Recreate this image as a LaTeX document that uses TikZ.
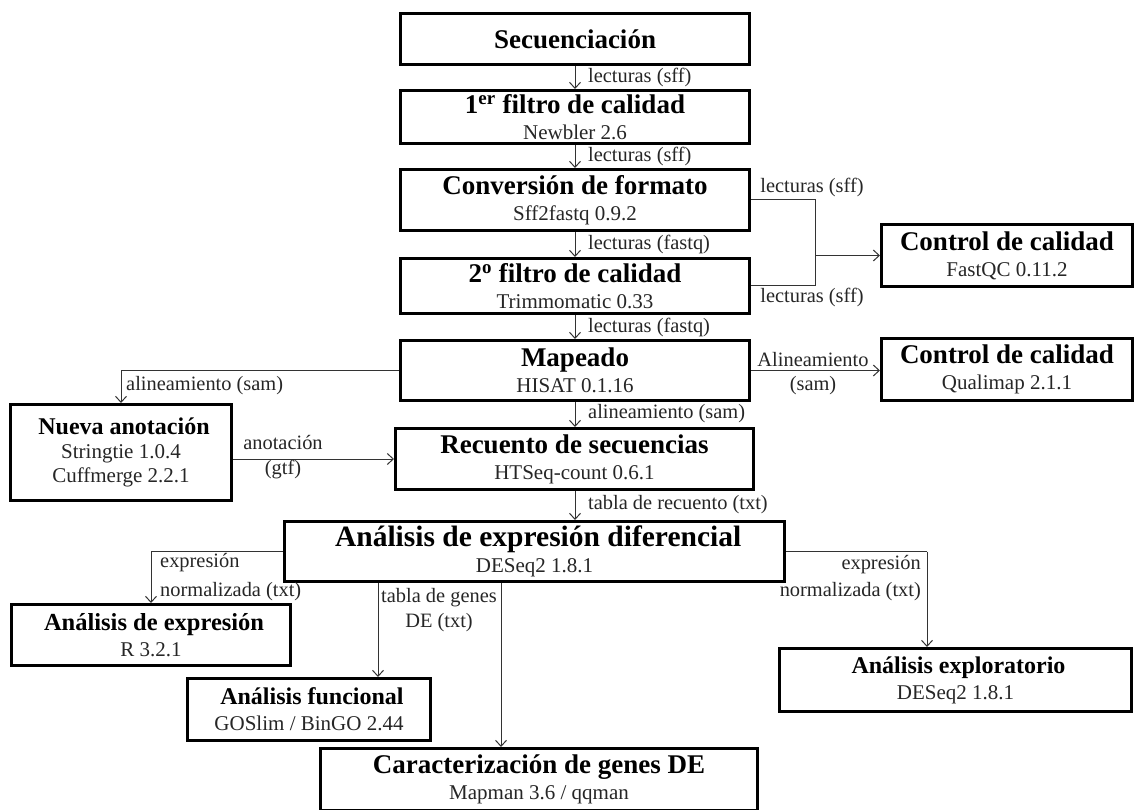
\documentclass[tikz,border=0pt]{standalone}
\usepackage{fontspec}
\setmainfont{Liberation Serif}
\usetikzlibrary{arrows.meta,calc}
\newcommand\ttl{\fontsize{27}{31}\selectfont\bfseries}
\newcommand\ttlx[1]{\fontsize{#1}{#1}\selectfont\bfseries}
\newcommand\sbt{\fontsize{21}{26}\selectfont}
\newcommand\sub[1]{{\color{black!85}#1}}
\tikzset{
  box/.style={draw=black, line width=3pt, inner sep=0pt, align=center, text=black, font=\sbt},
  lab/.style={font=\fontsize{20.4}{24}\selectfont, inner sep=0pt, text=black!85},
  conn/.style={draw=black!80, line width=1pt},
  arr/.style={conn, -{Straight Barb[length=6pt,width=11pt]}}
}
\begin{document}
\begin{tikzpicture}[x=1pt,y=-1pt]
\useasboundingbox[fill=white] (0,0) rectangle (1135,810);
\clip (0,0) rectangle (1135,810);
% boxes
\node[box, minimum width=349, minimum height=51] (S) at (575,39) {{\ttl Secuenciación}};
\node[box, minimum width=349, minimum height=53] (F1) at (575,117) {{\ttl 1\textsuperscript{er} filtro de calidad}\\\sub{Newbler 2.6}};
\node[box, minimum width=349, minimum height=61] (CF) at (575,200) {{\ttl Conversión de formato}\\\sub{Sff2fastq 0.9.2}};
\node[box, minimum width=349, minimum height=55] (F2) at (575,286) {{\ttl 2\textsuperscript{o} filtro de calidad}\\\sub{Trimmomatic 0.33}};
\node[box, minimum width=349, minimum height=60] (M) at (575,370.5) {{\ttl Mapeado}\\\sub{HISAT 0.1.16}};
\node[box, minimum width=251, minimum height=62] (Q1) at (1007,255.5) {{\ttl Control de calidad}\\\sub{FastQC 0.11.2}};
\node[box, minimum width=251, minimum height=62] (Q2) at (1007,369.5) {{\ttl Control de calidad}\\\sub{Qualimap 2.1.1}};
\node[box, minimum width=221, minimum height=96, font=\fontsize{21}{24}\selectfont] (NA) at (121,452.5) {{\ttlx{24} Nueva anotación}\\\sub{Stringtie 1.0.4}\\\sub{Cuffmerge 2.2.1}};
\node[box, minimum width=358, minimum height=61] (R) at (574.5,459) {{\ttl Recuento de secuencias}\\\sub{HTSeq-count 0.6.1}};
\node[box, minimum width=500, minimum height=60] (AD) at (534.5,551.5) {{\ttlx{29.5} Análisis de expresión diferencial}\\\sub{DESeq2 1.8.1}};
\node[box, minimum width=279, minimum height=61] (AE) at (151,635) {{\ttlx{24.5} Análisis de expresión}\\\sub{R 3.2.1}};
\node[box, minimum width=243, minimum height=62] (AF) at (309,709.5) {{\ttlx{24} Análisis funcional}\\\sub{GOSlim / BinGO 2.44}};
\node[box, minimum width=352, minimum height=63] (AX) at (955.5,680) {{\ttlx{24} Análisis exploratorio}\\\sub{DESeq2 1.8.1}};
\node[box, minimum width=437, minimum height=62] (CG) at (539,779.5) {{\ttl Caracterización de genes DE}\\\sub{Mapman 3.6 / qqman}};
% main chain
\draw[arr] (S.south) -- (F1.north);
\draw[arr] (F1.south) -- (CF.north);
\draw[arr] (CF.south) -- (F2.north);
\draw[arr] (F2.south) -- (M.north);
\draw[arr] (M.south) -- (M.south |- R.north);
\draw[arr] (M.south |- R.south) -- (M.south |- AD.north);
\node[lab, anchor=west] (l1) at (588,77) {lecturas (sff)};
\node[lab, anchor=west] (l2) at (588,156) {lecturas (sff)};
\node[lab, anchor=west] (l3) at (588,244) {lecturas (fastq)};
\node[lab, anchor=west] (l4) at (588,327) {lecturas (fastq)};
\node[lab, anchor=west] (l5) at (588,414) {alineamiento (sam)};
\node[lab, anchor=west] (l6) at (588,505) {tabla de recuento (txt)};
% bracket to FastQC
\coordinate (bx) at (815,254);
\draw[conn] (CF.east) -| (bx |- F2.east) -- (F2.east);
\draw[arr] (bx |- Q1.west) -- (Q1.west);
\node[lab] (l7) at (812,187) {lecturas (sff)};
\node[lab] (l8) at (812,297) {lecturas (sff)};
% Mapeado to Qualimap
\draw[arr] (M.east) -- (M.east -| Q2.west);
\node[lab] (l9) at (813,360) {Alineamiento};
\node[lab] (l10) at (813,386) {(sam)};
% Mapeado to Nueva anotacion
\draw[arr] (M.west) -| (NA.north);
\node[lab, anchor=west] (l11) at (126,386) {alineamiento (sam)};
% Nueva anotacion to Recuento
\draw[arr] (NA.east |- R.west) -- (R.west);
\node[lab] (l12) at (283,443) {anotación};
\node[lab] (l13) at (283,470) {(gtf)};
% DE branches
\draw[arr] (AD.west) -| (AE.north);
\node[lab, anchor=west] (l14) at (160,563) {expresión};
\node[lab, anchor=west] (l15) at (160,592) {normalizada (txt)};
\coordinate (jr) at (927,551.5);
\draw[conn] (AD.east) -- (jr);
\draw[arr] (jr) -- (jr |- AX.north);
\node[lab, anchor=east] (l16) at (921,565) {expresión};
\node[lab, anchor=east] (l17) at (921,592) {normalizada (txt)};
\coordinate (jf) at (378,583);
\draw[arr] (jf |- AD.south) -- (jf |- AF.north);
\node[lab] (l18) at (439,598) {tabla de genes};
\node[lab] (l19) at (439,623) {DE (txt)};
\coordinate (jc) at (501,583);
\draw[arr] (jc |- AD.south) -- (jc |- CG.north);
\end{tikzpicture}
\end{document}
